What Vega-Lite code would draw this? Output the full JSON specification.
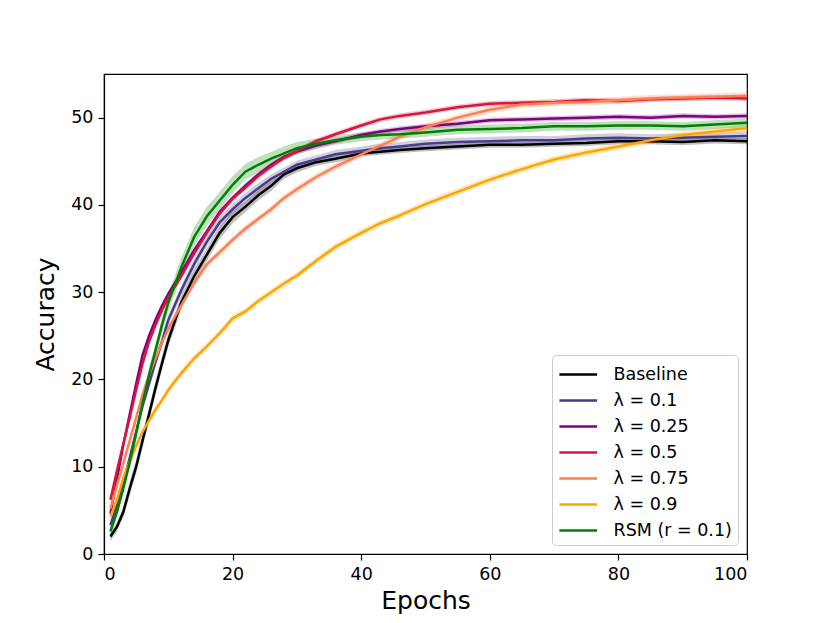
{
  "$schema": "https://vega.github.io/schema/vega-lite/v6.json",
  "autosize": "none",
  "width": 643,
  "height": 480,
  "padding": {"left": 104, "top": 74, "right": 83, "bottom": 69},
  "background": "white",
  "config": {
    "font": "DejaVu Sans",
    "view": {"stroke": "black", "strokeWidth": 1.2},
    "axis": {
      "grid": false,
      "domainColor": "black",
      "domainWidth": 1.2,
      "tickColor": "black",
      "tickWidth": 1.2,
      "tickSize": 6,
      "labelColor": "black",
      "labelFont": "DejaVu Sans",
      "labelFontSize": 17.5,
      "labelPadding": 5,
      "titleColor": "black",
      "titleFont": "DejaVu Sans",
      "titleFontSize": 25,
      "titleFontWeight": "normal"
    },
    "legend": {"labelFont": "DejaVu Sans"}
  },
  "data": {
    "values": [
      {"series":"Baseline","epoch":1,"acc":2.0,"sd":0.5},
      {"series":"Baseline","epoch":2,"acc":3.1,"sd":0.5},
      {"series":"Baseline","epoch":3,"acc":4.8,"sd":0.6},
      {"series":"Baseline","epoch":4,"acc":7.5,"sd":0.8},
      {"series":"Baseline","epoch":5,"acc":10.0,"sd":0.8},
      {"series":"Baseline","epoch":6,"acc":13.0,"sd":0.8},
      {"series":"Baseline","epoch":7,"acc":16.0,"sd":0.8},
      {"series":"Baseline","epoch":8,"acc":19.0,"sd":0.8},
      {"series":"Baseline","epoch":9,"acc":21.8,"sd":0.8},
      {"series":"Baseline","epoch":10,"acc":24.5,"sd":0.8},
      {"series":"Baseline","epoch":12,"acc":28.8,"sd":0.8},
      {"series":"Baseline","epoch":14,"acc":31.8,"sd":0.8},
      {"series":"Baseline","epoch":16,"acc":34.3,"sd":0.7},
      {"series":"Baseline","epoch":18,"acc":36.8,"sd":0.7},
      {"series":"Baseline","epoch":20,"acc":38.6,"sd":0.7},
      {"series":"Baseline","epoch":22,"acc":39.8,"sd":0.6},
      {"series":"Baseline","epoch":24,"acc":41.1,"sd":0.6},
      {"series":"Baseline","epoch":26,"acc":42.2,"sd":0.6},
      {"series":"Baseline","epoch":28,"acc":43.5,"sd":0.5},
      {"series":"Baseline","epoch":30,"acc":44.2,"sd":0.5},
      {"series":"Baseline","epoch":33,"acc":44.9,"sd":0.4},
      {"series":"Baseline","epoch":36,"acc":45.3,"sd":0.4},
      {"series":"Baseline","epoch":40,"acc":45.9,"sd":0.35},
      {"series":"Baseline","epoch":43,"acc":46.1,"sd":0.35},
      {"series":"Baseline","epoch":46,"acc":46.3,"sd":0.35},
      {"series":"Baseline","epoch":50,"acc":46.5,"sd":0.35},
      {"series":"Baseline","epoch":55,"acc":46.7,"sd":0.35},
      {"series":"Baseline","epoch":60,"acc":46.9,"sd":0.35},
      {"series":"Baseline","epoch":65,"acc":46.9,"sd":0.35},
      {"series":"Baseline","epoch":70,"acc":47.0,"sd":0.35},
      {"series":"Baseline","epoch":75,"acc":47.1,"sd":0.35},
      {"series":"Baseline","epoch":80,"acc":47.3,"sd":0.35},
      {"series":"Baseline","epoch":85,"acc":47.3,"sd":0.35},
      {"series":"Baseline","epoch":90,"acc":47.2,"sd":0.35},
      {"series":"Baseline","epoch":95,"acc":47.4,"sd":0.35},
      {"series":"Baseline","epoch":100,"acc":47.3,"sd":0.35},

      {"series":"λ = 0.1","epoch":1,"acc":3.3,"sd":0.6},
      {"series":"λ = 0.1","epoch":2,"acc":5.5,"sd":0.6},
      {"series":"λ = 0.1","epoch":3,"acc":8.2,"sd":0.6},
      {"series":"λ = 0.1","epoch":4,"acc":11.0,"sd":0.6},
      {"series":"λ = 0.1","epoch":5,"acc":14.0,"sd":0.6},
      {"series":"λ = 0.1","epoch":6,"acc":17.0,"sd":0.6},
      {"series":"λ = 0.1","epoch":7,"acc":19.5,"sd":0.6},
      {"series":"λ = 0.1","epoch":8,"acc":22.0,"sd":0.6},
      {"series":"λ = 0.1","epoch":9,"acc":24.3,"sd":0.6},
      {"series":"λ = 0.1","epoch":10,"acc":26.8,"sd":0.6},
      {"series":"λ = 0.1","epoch":12,"acc":30.2,"sd":0.6},
      {"series":"λ = 0.1","epoch":14,"acc":33.2,"sd":0.6},
      {"series":"λ = 0.1","epoch":16,"acc":35.8,"sd":0.6},
      {"series":"λ = 0.1","epoch":18,"acc":38.0,"sd":0.6},
      {"series":"λ = 0.1","epoch":20,"acc":39.5,"sd":0.6},
      {"series":"λ = 0.1","epoch":22,"acc":40.8,"sd":0.6},
      {"series":"λ = 0.1","epoch":24,"acc":41.9,"sd":0.6},
      {"series":"λ = 0.1","epoch":26,"acc":43.0,"sd":0.5},
      {"series":"λ = 0.1","epoch":28,"acc":43.8,"sd":0.5},
      {"series":"λ = 0.1","epoch":30,"acc":44.6,"sd":0.5},
      {"series":"λ = 0.1","epoch":33,"acc":45.2,"sd":0.5},
      {"series":"λ = 0.1","epoch":36,"acc":45.8,"sd":0.5},
      {"series":"λ = 0.1","epoch":40,"acc":46.2,"sd":0.5},
      {"series":"λ = 0.1","epoch":43,"acc":46.5,"sd":0.5},
      {"series":"λ = 0.1","epoch":46,"acc":46.7,"sd":0.5},
      {"series":"λ = 0.1","epoch":50,"acc":47.0,"sd":0.5},
      {"series":"λ = 0.1","epoch":55,"acc":47.2,"sd":0.5},
      {"series":"λ = 0.1","epoch":60,"acc":47.3,"sd":0.5},
      {"series":"λ = 0.1","epoch":65,"acc":47.4,"sd":0.5},
      {"series":"λ = 0.1","epoch":70,"acc":47.4,"sd":0.5},
      {"series":"λ = 0.1","epoch":75,"acc":47.6,"sd":0.5},
      {"series":"λ = 0.1","epoch":80,"acc":47.7,"sd":0.5},
      {"series":"λ = 0.1","epoch":85,"acc":47.6,"sd":0.5},
      {"series":"λ = 0.1","epoch":90,"acc":47.7,"sd":0.5},
      {"series":"λ = 0.1","epoch":95,"acc":47.8,"sd":0.5},
      {"series":"λ = 0.1","epoch":100,"acc":47.9,"sd":0.5},

      {"series":"λ = 0.25","epoch":1,"acc":4.6,"sd":0.3},
      {"series":"λ = 0.25","epoch":2,"acc":8.5,"sd":0.3},
      {"series":"λ = 0.25","epoch":3,"acc":12.5,"sd":0.3},
      {"series":"λ = 0.25","epoch":4,"acc":16.0,"sd":0.3},
      {"series":"λ = 0.25","epoch":5,"acc":19.5,"sd":0.3},
      {"series":"λ = 0.25","epoch":6,"acc":22.8,"sd":0.3},
      {"series":"λ = 0.25","epoch":7,"acc":25.0,"sd":0.3},
      {"series":"λ = 0.25","epoch":8,"acc":26.8,"sd":0.3},
      {"series":"λ = 0.25","epoch":9,"acc":28.4,"sd":0.3},
      {"series":"λ = 0.25","epoch":10,"acc":29.8,"sd":0.3},
      {"series":"λ = 0.25","epoch":12,"acc":32.2,"sd":0.3},
      {"series":"λ = 0.25","epoch":14,"acc":34.8,"sd":0.3},
      {"series":"λ = 0.25","epoch":16,"acc":37.0,"sd":0.3},
      {"series":"λ = 0.25","epoch":18,"acc":39.2,"sd":0.3},
      {"series":"λ = 0.25","epoch":20,"acc":40.8,"sd":0.3},
      {"series":"λ = 0.25","epoch":22,"acc":42.2,"sd":0.3},
      {"series":"λ = 0.25","epoch":24,"acc":43.5,"sd":0.3},
      {"series":"λ = 0.25","epoch":26,"acc":44.6,"sd":0.3},
      {"series":"λ = 0.25","epoch":28,"acc":45.5,"sd":0.3},
      {"series":"λ = 0.25","epoch":30,"acc":46.1,"sd":0.3},
      {"series":"λ = 0.25","epoch":33,"acc":46.8,"sd":0.3},
      {"series":"λ = 0.25","epoch":36,"acc":47.3,"sd":0.3},
      {"series":"λ = 0.25","epoch":40,"acc":48.0,"sd":0.3},
      {"series":"λ = 0.25","epoch":43,"acc":48.4,"sd":0.3},
      {"series":"λ = 0.25","epoch":46,"acc":48.7,"sd":0.3},
      {"series":"λ = 0.25","epoch":50,"acc":49.0,"sd":0.3},
      {"series":"λ = 0.25","epoch":55,"acc":49.3,"sd":0.3},
      {"series":"λ = 0.25","epoch":60,"acc":49.7,"sd":0.3},
      {"series":"λ = 0.25","epoch":65,"acc":49.8,"sd":0.3},
      {"series":"λ = 0.25","epoch":70,"acc":49.9,"sd":0.3},
      {"series":"λ = 0.25","epoch":75,"acc":50.0,"sd":0.3},
      {"series":"λ = 0.25","epoch":80,"acc":50.1,"sd":0.3},
      {"series":"λ = 0.25","epoch":85,"acc":50.0,"sd":0.3},
      {"series":"λ = 0.25","epoch":90,"acc":50.2,"sd":0.3},
      {"series":"λ = 0.25","epoch":95,"acc":50.1,"sd":0.3},
      {"series":"λ = 0.25","epoch":100,"acc":50.2,"sd":0.3},

      {"series":"λ = 0.5","epoch":1,"acc":6.2,"sd":0.3},
      {"series":"λ = 0.5","epoch":2,"acc":9.5,"sd":0.3},
      {"series":"λ = 0.5","epoch":3,"acc":12.6,"sd":0.3},
      {"series":"λ = 0.5","epoch":4,"acc":15.6,"sd":0.3},
      {"series":"λ = 0.5","epoch":5,"acc":18.8,"sd":0.3},
      {"series":"λ = 0.5","epoch":6,"acc":21.8,"sd":0.3},
      {"series":"λ = 0.5","epoch":7,"acc":24.3,"sd":0.3},
      {"series":"λ = 0.5","epoch":8,"acc":26.2,"sd":0.3},
      {"series":"λ = 0.5","epoch":9,"acc":27.9,"sd":0.3},
      {"series":"λ = 0.5","epoch":10,"acc":29.4,"sd":0.3},
      {"series":"λ = 0.5","epoch":12,"acc":31.8,"sd":0.3},
      {"series":"λ = 0.5","epoch":14,"acc":34.4,"sd":0.3},
      {"series":"λ = 0.5","epoch":16,"acc":36.8,"sd":0.3},
      {"series":"λ = 0.5","epoch":18,"acc":39.0,"sd":0.3},
      {"series":"λ = 0.5","epoch":20,"acc":40.7,"sd":0.3},
      {"series":"λ = 0.5","epoch":22,"acc":42.0,"sd":0.3},
      {"series":"λ = 0.5","epoch":24,"acc":43.3,"sd":0.3},
      {"series":"λ = 0.5","epoch":26,"acc":44.4,"sd":0.3},
      {"series":"λ = 0.5","epoch":28,"acc":45.4,"sd":0.3},
      {"series":"λ = 0.5","epoch":30,"acc":46.2,"sd":0.3},
      {"series":"λ = 0.5","epoch":33,"acc":47.3,"sd":0.3},
      {"series":"λ = 0.5","epoch":36,"acc":48.1,"sd":0.3},
      {"series":"λ = 0.5","epoch":40,"acc":49.1,"sd":0.3},
      {"series":"λ = 0.5","epoch":43,"acc":49.8,"sd":0.3},
      {"series":"λ = 0.5","epoch":46,"acc":50.2,"sd":0.3},
      {"series":"λ = 0.5","epoch":50,"acc":50.6,"sd":0.3},
      {"series":"λ = 0.5","epoch":55,"acc":51.2,"sd":0.3},
      {"series":"λ = 0.5","epoch":60,"acc":51.6,"sd":0.3},
      {"series":"λ = 0.5","epoch":65,"acc":51.7,"sd":0.3},
      {"series":"λ = 0.5","epoch":70,"acc":51.8,"sd":0.3},
      {"series":"λ = 0.5","epoch":75,"acc":52.0,"sd":0.3},
      {"series":"λ = 0.5","epoch":80,"acc":51.9,"sd":0.3},
      {"series":"λ = 0.5","epoch":85,"acc":52.1,"sd":0.3},
      {"series":"λ = 0.5","epoch":90,"acc":52.2,"sd":0.3},
      {"series":"λ = 0.5","epoch":95,"acc":52.3,"sd":0.3},
      {"series":"λ = 0.5","epoch":100,"acc":52.2,"sd":0.3},

      {"series":"λ = 0.75","epoch":1,"acc":5.2,"sd":0.4},
      {"series":"λ = 0.75","epoch":2,"acc":7.8,"sd":0.4},
      {"series":"λ = 0.75","epoch":3,"acc":10.4,"sd":0.4},
      {"series":"λ = 0.75","epoch":4,"acc":13.0,"sd":0.4},
      {"series":"λ = 0.75","epoch":5,"acc":15.6,"sd":0.4},
      {"series":"λ = 0.75","epoch":6,"acc":18.3,"sd":0.4},
      {"series":"λ = 0.75","epoch":7,"acc":20.5,"sd":0.4},
      {"series":"λ = 0.75","epoch":8,"acc":22.4,"sd":0.4},
      {"series":"λ = 0.75","epoch":9,"acc":24.2,"sd":0.4},
      {"series":"λ = 0.75","epoch":10,"acc":25.8,"sd":0.4},
      {"series":"λ = 0.75","epoch":12,"acc":28.5,"sd":0.4},
      {"series":"λ = 0.75","epoch":14,"acc":31.0,"sd":0.4},
      {"series":"λ = 0.75","epoch":16,"acc":33.2,"sd":0.4},
      {"series":"λ = 0.75","epoch":18,"acc":34.6,"sd":0.4},
      {"series":"λ = 0.75","epoch":20,"acc":36.0,"sd":0.4},
      {"series":"λ = 0.75","epoch":22,"acc":37.3,"sd":0.4},
      {"series":"λ = 0.75","epoch":24,"acc":38.4,"sd":0.4},
      {"series":"λ = 0.75","epoch":26,"acc":39.5,"sd":0.4},
      {"series":"λ = 0.75","epoch":28,"acc":40.8,"sd":0.4},
      {"series":"λ = 0.75","epoch":30,"acc":41.8,"sd":0.4},
      {"series":"λ = 0.75","epoch":33,"acc":43.2,"sd":0.4},
      {"series":"λ = 0.75","epoch":36,"acc":44.4,"sd":0.4},
      {"series":"λ = 0.75","epoch":40,"acc":45.8,"sd":0.4},
      {"series":"λ = 0.75","epoch":43,"acc":46.8,"sd":0.4},
      {"series":"λ = 0.75","epoch":46,"acc":47.8,"sd":0.4},
      {"series":"λ = 0.75","epoch":50,"acc":48.9,"sd":0.4},
      {"series":"λ = 0.75","epoch":55,"acc":50.0,"sd":0.4},
      {"series":"λ = 0.75","epoch":60,"acc":50.9,"sd":0.4},
      {"series":"λ = 0.75","epoch":65,"acc":51.5,"sd":0.4},
      {"series":"λ = 0.75","epoch":70,"acc":51.7,"sd":0.4},
      {"series":"λ = 0.75","epoch":75,"acc":51.8,"sd":0.4},
      {"series":"λ = 0.75","epoch":80,"acc":52.0,"sd":0.4},
      {"series":"λ = 0.75","epoch":85,"acc":52.2,"sd":0.4},
      {"series":"λ = 0.75","epoch":90,"acc":52.3,"sd":0.4},
      {"series":"λ = 0.75","epoch":95,"acc":52.4,"sd":0.4},
      {"series":"λ = 0.75","epoch":100,"acc":52.5,"sd":0.4},

      {"series":"λ = 0.9","epoch":1,"acc":4.3,"sd":0.4},
      {"series":"λ = 0.9","epoch":2,"acc":6.2,"sd":0.4},
      {"series":"λ = 0.9","epoch":3,"acc":8.7,"sd":0.4},
      {"series":"λ = 0.9","epoch":4,"acc":10.6,"sd":0.4},
      {"series":"λ = 0.9","epoch":5,"acc":12.4,"sd":0.4},
      {"series":"λ = 0.9","epoch":6,"acc":14.0,"sd":0.4},
      {"series":"λ = 0.9","epoch":7,"acc":15.3,"sd":0.4},
      {"series":"λ = 0.9","epoch":8,"acc":16.5,"sd":0.4},
      {"series":"λ = 0.9","epoch":9,"acc":17.6,"sd":0.4},
      {"series":"λ = 0.9","epoch":10,"acc":18.8,"sd":0.4},
      {"series":"λ = 0.9","epoch":12,"acc":20.7,"sd":0.4},
      {"series":"λ = 0.9","epoch":14,"acc":22.4,"sd":0.4},
      {"series":"λ = 0.9","epoch":16,"acc":23.8,"sd":0.4},
      {"series":"λ = 0.9","epoch":18,"acc":25.3,"sd":0.4},
      {"series":"λ = 0.9","epoch":20,"acc":27.0,"sd":0.4},
      {"series":"λ = 0.9","epoch":22,"acc":27.8,"sd":0.4},
      {"series":"λ = 0.9","epoch":24,"acc":29.0,"sd":0.4},
      {"series":"λ = 0.9","epoch":26,"acc":30.0,"sd":0.4},
      {"series":"λ = 0.9","epoch":28,"acc":31.0,"sd":0.4},
      {"series":"λ = 0.9","epoch":30,"acc":31.9,"sd":0.4},
      {"series":"λ = 0.9","epoch":33,"acc":33.6,"sd":0.4},
      {"series":"λ = 0.9","epoch":36,"acc":35.2,"sd":0.4},
      {"series":"λ = 0.9","epoch":40,"acc":36.8,"sd":0.4},
      {"series":"λ = 0.9","epoch":43,"acc":37.9,"sd":0.4},
      {"series":"λ = 0.9","epoch":46,"acc":38.8,"sd":0.4},
      {"series":"λ = 0.9","epoch":50,"acc":40.1,"sd":0.4},
      {"series":"λ = 0.9","epoch":55,"acc":41.5,"sd":0.4},
      {"series":"λ = 0.9","epoch":60,"acc":42.9,"sd":0.4},
      {"series":"λ = 0.9","epoch":65,"acc":44.1,"sd":0.4},
      {"series":"λ = 0.9","epoch":70,"acc":45.2,"sd":0.4},
      {"series":"λ = 0.9","epoch":75,"acc":46.0,"sd":0.4},
      {"series":"λ = 0.9","epoch":80,"acc":46.7,"sd":0.4},
      {"series":"λ = 0.9","epoch":85,"acc":47.4,"sd":0.4},
      {"series":"λ = 0.9","epoch":90,"acc":48.0,"sd":0.4},
      {"series":"λ = 0.9","epoch":95,"acc":48.4,"sd":0.4},
      {"series":"λ = 0.9","epoch":100,"acc":48.8,"sd":0.4},

      {"series":"RSM (r = 0.1)","epoch":1,"acc":2.6,"sd":0.6},
      {"series":"RSM (r = 0.1)","epoch":2,"acc":4.8,"sd":0.6},
      {"series":"RSM (r = 0.1)","epoch":3,"acc":7.5,"sd":0.6},
      {"series":"RSM (r = 0.1)","epoch":4,"acc":10.5,"sd":0.6},
      {"series":"RSM (r = 0.1)","epoch":5,"acc":13.8,"sd":0.7},
      {"series":"RSM (r = 0.1)","epoch":6,"acc":17.3,"sd":0.7},
      {"series":"RSM (r = 0.1)","epoch":7,"acc":20.5,"sd":0.8},
      {"series":"RSM (r = 0.1)","epoch":8,"acc":23.3,"sd":0.8},
      {"series":"RSM (r = 0.1)","epoch":9,"acc":26.2,"sd":0.9},
      {"series":"RSM (r = 0.1)","epoch":10,"acc":28.8,"sd":1.0},
      {"series":"RSM (r = 0.1)","epoch":12,"acc":32.8,"sd":1.1},
      {"series":"RSM (r = 0.1)","epoch":14,"acc":36.3,"sd":1.1},
      {"series":"RSM (r = 0.1)","epoch":16,"acc":38.7,"sd":1.1},
      {"series":"RSM (r = 0.1)","epoch":18,"acc":40.5,"sd":1.0},
      {"series":"RSM (r = 0.1)","epoch":20,"acc":42.3,"sd":1.0},
      {"series":"RSM (r = 0.1)","epoch":22,"acc":43.8,"sd":0.9},
      {"series":"RSM (r = 0.1)","epoch":24,"acc":44.6,"sd":0.9},
      {"series":"RSM (r = 0.1)","epoch":26,"acc":45.3,"sd":0.8},
      {"series":"RSM (r = 0.1)","epoch":28,"acc":45.9,"sd":0.8},
      {"series":"RSM (r = 0.1)","epoch":30,"acc":46.5,"sd":0.7},
      {"series":"RSM (r = 0.1)","epoch":33,"acc":47.0,"sd":0.6},
      {"series":"RSM (r = 0.1)","epoch":36,"acc":47.4,"sd":0.5},
      {"series":"RSM (r = 0.1)","epoch":40,"acc":47.8,"sd":0.5},
      {"series":"RSM (r = 0.1)","epoch":43,"acc":48.0,"sd":0.5},
      {"series":"RSM (r = 0.1)","epoch":46,"acc":48.1,"sd":0.5},
      {"series":"RSM (r = 0.1)","epoch":50,"acc":48.3,"sd":0.5},
      {"series":"RSM (r = 0.1)","epoch":55,"acc":48.6,"sd":0.5},
      {"series":"RSM (r = 0.1)","epoch":60,"acc":48.7,"sd":0.5},
      {"series":"RSM (r = 0.1)","epoch":65,"acc":48.8,"sd":0.5},
      {"series":"RSM (r = 0.1)","epoch":70,"acc":49.0,"sd":0.5},
      {"series":"RSM (r = 0.1)","epoch":75,"acc":49.0,"sd":0.5},
      {"series":"RSM (r = 0.1)","epoch":80,"acc":49.1,"sd":0.5},
      {"series":"RSM (r = 0.1)","epoch":85,"acc":49.1,"sd":0.5},
      {"series":"RSM (r = 0.1)","epoch":90,"acc":49.0,"sd":0.5},
      {"series":"RSM (r = 0.1)","epoch":95,"acc":49.2,"sd":0.5},
      {"series":"RSM (r = 0.1)","epoch":100,"acc":49.4,"sd":0.5}
    ]
  },
  "encoding": {
    "x": {
      "field": "epoch",
      "type": "quantitative",
      "title": "Epochs",
      "scale": {"domain": [0, 100], "nice": false, "zero": false},
      "axis": {"values": [0, 20, 40, 60, 80, 100], "titlePadding": 6}
    },
    "color": {
      "field": "series",
      "type": "nominal",
      "scale": {
        "domain": ["Baseline", "λ = 0.1", "λ = 0.25", "λ = 0.5", "λ = 0.75", "λ = 0.9", "RSM (r = 0.1)"],
        "range": ["#000000", "#483d8b", "#800080", "#dc143c", "#ff7f50", "#ffa500", "#008000"]
      },
      "legend": {
        "title": null,
        "orient": "bottom-right",
        "offset": 9,
        "padding": 6,
        "strokeColor": "#cccccc",
        "fillColor": "white",
        "cornerRadius": 4,
        "symbolType": "M-1.54,0H1.54",
        "symbolSize": 600,
        "symbolStrokeWidth": 2.5,
        "symbolOpacity": 1,
        "symbolOffset": 6.75,
        "labelOffset": 21.75,
        "labelFont": "DejaVu Sans",
        "labelFontSize": 17.5,
        "labelColor": "black",
        "rowPadding": 4
      }
    }
  },
  "layer": [
    {
      "mark": {"type": "errorband", "band": {"opacity": 0.25}},
      "encoding": {
        "y": {
          "field": "acc",
          "type": "quantitative",
          "title": "Accuracy",
          "scale": {"domain": [0, 55], "nice": false},
          "axis": {"values": [0, 10, 20, 30, 40, 50], "titlePadding": 12}
        },
        "yError": {"field": "sd"}
      }
    },
    {
      "mark": {"type": "line", "strokeWidth": 2.5},
      "encoding": {
        "y": {"field": "acc", "type": "quantitative"}
      }
    }
  ]
}
